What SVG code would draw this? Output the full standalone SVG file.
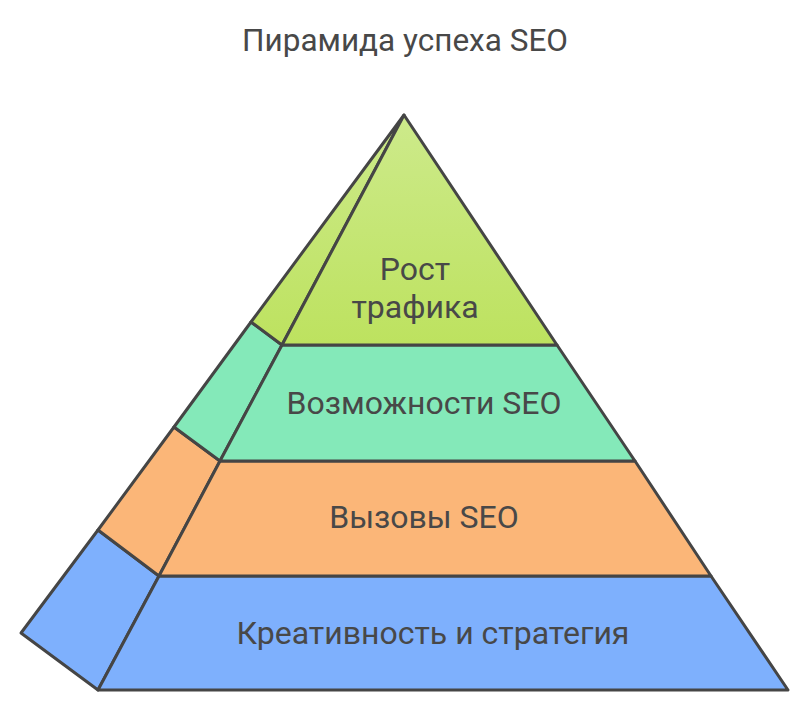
<svg xmlns="http://www.w3.org/2000/svg" width="810" height="713" viewBox="0 0 810 713">
<defs>
<linearGradient id="gTop" x1="0" y1="0" x2="0" y2="1">
<stop offset="0" stop-color="#cdea8b"/>
<stop offset="1" stop-color="#bde25f"/>
</linearGradient>
<style>
.face{stroke:#454545;stroke-width:3;stroke-linejoin:round}
.lbl{font-family:Roboto,"Liberation Sans",sans-serif;font-size:32px;fill:#484848;text-anchor:middle}
.title{font-family:Roboto,"Liberation Sans",sans-serif;font-size:31.5px;fill:#484848;text-anchor:middle}
</style>
</defs>
<rect width="810" height="713" fill="#ffffff"/>
<text class="title" x="405" y="51">Пирамида успеха SEO</text>
<g id="layer-base">
<polygon class="face" fill="#7eb0fd" points="98,530 159,576 98,690 21,633"/>
<polygon class="face" fill="#7eb0fd" points="159,576 711,576 788,690 98,690"/>
<text class="lbl" x="433" y="644">Креативность и стратегия</text>
</g>
<g id="layer-challenges">
<polygon class="face" fill="#fbb678" points="174,427 220,461 159,576 98,530"/>
<polygon class="face" fill="#fbb678" points="220,461 635,461 711,576 159,576"/>
<text class="lbl" x="424" y="528">Вызовы SEO</text>
</g>
<g id="layer-opportunities">
<polygon class="face" fill="#84e9b9" points="251,322 282,345 220,461 174,427"/>
<polygon class="face" fill="#84e9b9" points="282,345 557,345 635,461 220,461"/>
<text class="lbl" x="424" y="414">Возможности SEO</text>
</g>
<g id="layer-top">
<polygon class="face" fill="url(#gTop)" points="404,115 282,345 251,322"/>
<polygon class="face" fill="url(#gTop)" points="404,115 557,345 282,345"/>
<text class="lbl" x="415" y="280">Рост</text>
<text class="lbl" x="415" y="318">трафика</text>
</g>
</svg>
